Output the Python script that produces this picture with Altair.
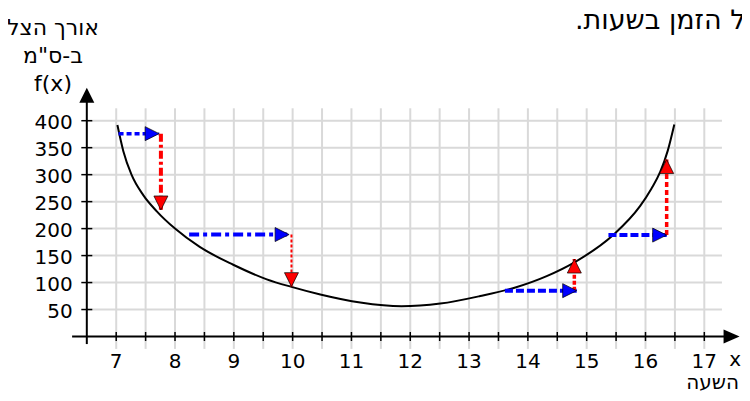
import altair as alt
import pandas as pd

FONT = "DejaVu Sans"

# ---------------- data ----------------
curve_x = [7.02, 7.12, 7.26, 7.46, 7.69, 8.0, 8.42, 8.99, 9.56,
           9.98, 10.47, 11.15, 11.85, 12.51, 13.19, 13.76, 14.32, 14.8, 15.45, 15.91,
           16.1, 16.25, 16.38, 16.49]
curve_y = [392, 344, 300, 262, 232, 200, 166, 133, 106,
           92, 78, 63, 56, 61, 75, 90, 112, 138, 188, 242,
           274, 305, 345, 393]

x_ticks = [7, 7.5, 8, 8.5, 9, 9.5, 10, 10.5, 11, 11.5, 12, 12.5,
           13, 13.5, 14, 14.5, 15, 15.5, 16, 16.5, 17]
x_labels = [7, 8, 9, 10, 11, 12, 13, 14, 15, 16, 17]
y_ticks = [50, 100, 150, 200, 250, 300, 350, 400]

# horizontal (blue) arrows: start x, tip x, y
h_x_start = [7.04, 8.24, 13.61, 15.37]
h_x_tip = [7.73, 9.94, 14.83, 16.36]
h_y = [376, 189, 85, 188]

# vertical (red) arrows: x, start y, tip y
v_x = [7.76, 9.98, 14.79, 16.36]
v_y_start = [376, 189, 85, 188]
v_y_tip = [234.5, 92.4, 143.6, 328]

# axis / grid extents (data units)
x_axis_span = [6.25, 17.4]
x_axis_tip = 17.6
y_axis_x = 6.5
y_axis_span = [-14, 445]
y_axis_tip = 461
grid_v_span = [-23, 423]
grid_h_span = [6.5, 17.3]

y_title = ["אורך הצל", 'ב-ס"מ', "f(x)"]
x_title = "השעה"
x_var = "x"
caption = "כפונקציה של הזמן בשעות.\u200f"

# ---------------- styles ----------------
BLUE = "#0000ff"
RED = "#ff0000"
GRID = "#d9d9d9"
h_styles = [dict(strokeDash=[5, 3], strokeWidth=3.5),
            dict(strokeDash=[10, 4, 4, 4], strokeWidth=4),
            dict(strokeDash=[8, 3], strokeWidth=4),
            dict(strokeDash=[8, 3], strokeWidth=4)]
v_styles = [dict(strokeDash=[8, 3, 3, 3], strokeWidth=4),
            dict(strokeDash=[3, 2], strokeWidth=2),
            dict(strokeDash=[4, 2], strokeWidth=3.5),
            dict(strokeDash=[5, 3], strokeWidth=3.5)]

RIGHT = "M0,0L-2,-1L-2,1Z"
UP = "M0,0L-1,2L1,2Z"
DOWN = "M0,0L-1,-2L1,-2Z"
X_ARROW = "M0,0L-2,-0.875L-2,0.875Z"

xs = alt.Scale(domain=[5.160, 17.641], nice=False, zero=False)
ys = alt.Scale(domain=[-104.7, 608.9], nice=False, zero=False)


def X(f):
    return alt.X(f, type="quantitative", scale=xs, axis=None)


def Y(f):
    return alt.Y(f, type="quantitative", scale=ys, axis=None)


layers = []

# grid
grid_v = pd.DataFrame({"x": x_ticks, "y0": grid_v_span[0], "y1": grid_v_span[1]})
layers.append(alt.Chart(grid_v).mark_rule(color=GRID, strokeWidth=2).encode(
    x=X("x"), y=Y("y0"), y2="y1"))
grid_h = pd.DataFrame({"y": y_ticks, "x0": grid_h_span[0], "x1": grid_h_span[1]})
layers.append(alt.Chart(grid_h).mark_rule(color=GRID, strokeWidth=2).encode(
    y=Y("y"), x=X("x0"), x2="x1"))

# axis lines and arrow heads
layers.append(alt.Chart(pd.DataFrame({"x0": [x_axis_span[0]], "x1": [x_axis_span[1]], "y": [0]}))
              .mark_rule(color="black", strokeWidth=2).encode(x=X("x0"), x2="x1", y=Y("y")))
layers.append(alt.Chart(pd.DataFrame({"x": [y_axis_x], "y0": [y_axis_span[0]], "y1": [y_axis_span[1]]}))
              .mark_rule(color="black", strokeWidth=2).encode(x=X("x"), y=Y("y0"), y2="y1"))
layers.append(alt.Chart(pd.DataFrame({"x": [x_axis_tip], "y": [0]}))
              .mark_point(shape=X_ARROW, size=256, filled=True, color="black", opacity=1)
              .encode(x=X("x"), y=Y("y")))
layers.append(alt.Chart(pd.DataFrame({"x": [y_axis_x], "y": [y_axis_tip]}))
              .mark_point(shape=UP, size=225, filled=True, color="black", opacity=1)
              .encode(x=X("x"), y=Y("y")))

# axis ticks
layers.append(alt.Chart(pd.DataFrame({"x": x_ticks, "y": 0}))
              .mark_tick(orient="vertical", size=9, thickness=1.5, color="black", opacity=1)
              .encode(x=X("x"), y=Y("y")))
layers.append(alt.Chart(pd.DataFrame({"y": y_ticks, "x": y_axis_x}))
              .mark_tick(orient="horizontal", size=11, thickness=1.5, color="black", opacity=1)
              .encode(x=X("x"), y=Y("y")))

# tick labels
layers.append(alt.Chart(pd.DataFrame({"x": x_labels, "y": 0}))
              .mark_text(font=FONT, fontSize=20, align="center", baseline="top", dy=15, color="black")
              .encode(x=X("x"), y=Y("y"), text=alt.Text("x:Q", format="d")))
layers.append(alt.Chart(pd.DataFrame({"y": y_ticks, "x": y_axis_x}))
              .mark_text(font=FONT, fontSize=20, align="right", baseline="middle", dx=-14, dy=2.6,
                         color="black")
              .encode(x=X("x"), y=Y("y"), text=alt.Text("y:Q", format="d")))

# curve
layers.append(alt.Chart(pd.DataFrame({"x": curve_x, "y": curve_y}))
              .mark_line(color="black", strokeWidth=2, interpolate="monotone")
              .encode(x=X("x"), y=Y("y")))

# arrow shafts
for i in range(len(h_y)):
    df = pd.DataFrame({"x0": [h_x_start[i]], "x1": [h_x_tip[i]], "y": [h_y[i]]})
    layers.append(alt.Chart(df).mark_rule(color=BLUE, **h_styles[i])
                  .encode(x=X("x0"), x2="x1", y=Y("y")))
for i in range(len(v_x)):
    df = pd.DataFrame({"x": [v_x[i]], "y0": [v_y_start[i]], "y1": [v_y_tip[i]]})
    layers.append(alt.Chart(df).mark_rule(color=RED, **v_styles[i])
                  .encode(x=X("x"), y=Y("y0"), y2="y1"))

# arrow heads
heads_r = pd.DataFrame({"x": h_x_tip, "y": h_y})
layers.append(alt.Chart(heads_r).mark_point(shape=RIGHT, size=196, filled=True, fill=BLUE,
                                            stroke="black", strokeWidth=0.7, opacity=1)
              .encode(x=X("x"), y=Y("y")))
down = [(x, t) for x, s, t in zip(v_x, v_y_start, v_y_tip) if t < s]
up = [(x, t) for x, s, t in zip(v_x, v_y_start, v_y_tip) if t >= s]
for pts, shp in ((down, DOWN), (up, UP)):
    df = pd.DataFrame({"x": [p[0] for p in pts], "y": [p[1] for p in pts]})
    layers.append(alt.Chart(df).mark_point(shape=shp, size=196, filled=True, fill=RED,
                                           stroke="black", strokeWidth=0.7, opacity=1)
                  .encode(x=X("x"), y=Y("y")))

# texts
layers.append(alt.Chart(pd.DataFrame({"t": ["\n".join(y_title)]}))
              .mark_text(font=FONT, fontSize=22, align="center", baseline="alphabetic",
                         lineBreak="\n", lineHeight=28, color="black")
              .encode(text="t:N", x=alt.value(45), y=alt.value(26.5)))
layers.append(alt.Chart(pd.DataFrame({"t": [caption]}))
              .mark_text(font=FONT, fontSize=27, align="left", baseline="alphabetic", color="black")
              .encode(text="t:N", x=alt.value(567), y=alt.value(20.8)))
layers.append(alt.Chart(pd.DataFrame({"t": [x_var]}))
              .mark_text(font=FONT, fontSize=20, align="right", baseline="alphabetic", color="black")
              .encode(text="t:N", x=alt.value(733), y=alt.value(358)))
layers.append(alt.Chart(pd.DataFrame({"t": [x_title]}))
              .mark_text(font=FONT, fontSize=20, align="right", baseline="alphabetic", color="black")
              .encode(text="t:N", x=alt.value(731), y=alt.value(381)))

chart = (alt.layer(*layers)
         .properties(width=734, height=385, padding=0,
                     autosize=alt.AutoSizeParams(type="none"),
                     background="white")
         .configure_view(strokeWidth=0))

chart.save("out.html", embed_options={"renderer": "svg", "actions": False})
